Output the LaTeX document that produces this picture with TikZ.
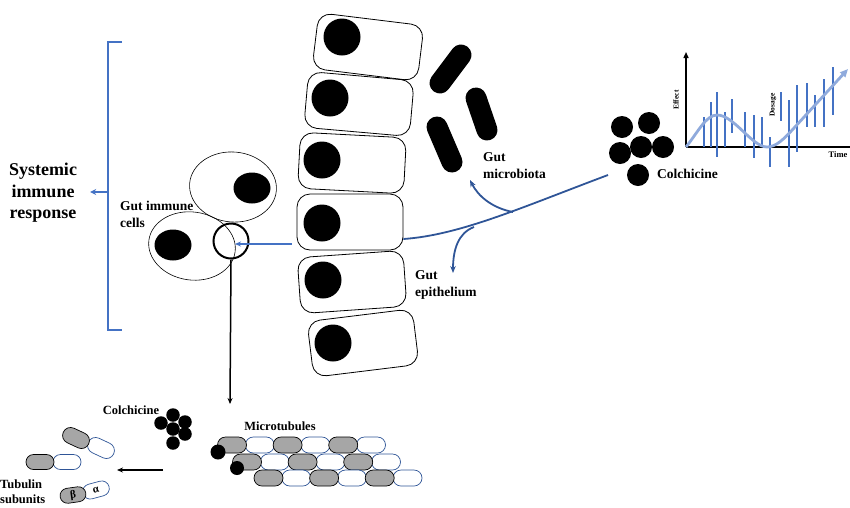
\documentclass[tikz,border=0pt]{standalone}
\usepackage{fontspec}
\setmainfont{Liberation Serif}
\usetikzlibrary{arrows.meta,shapes.geometric,shapes.misc,calc}
\definecolor{linkblue}{HTML}{2F5597}
\definecolor{brblue}{HTML}{4472C4}
\definecolor{lightblue}{HTML}{8FAADC}
\definecolor{tubgray}{HTML}{A6A6A6}
\begin{document}
\begin{tikzpicture}[x=1pt,y=-1pt,
  cell/.style={draw, rounded corners=13pt, minimum width=106pt, minimum height=56pt, line width=0.8pt},
  nuc/.style={circle, fill=black, minimum size=37pt, inner sep=0pt},
  rod/.style={line width=21pt, line cap=round},
  immune/.style={ellipse, draw, line width=0.6pt, minimum width=87pt, minimum height=70pt},
  inuc/.style={ellipse, fill=black, minimum width=37pt, minimum height=31pt, inner sep=0pt},
  lbl/.style={font=\bfseries\fontsize{13.5}{17}\selectfont, align=left, inner sep=0pt},
  sml/.style={font=\bfseries\fontsize{12.5}{15}\selectfont, align=left, inner sep=0pt},
  dot/.style={circle, fill=black, inner sep=0pt, minimum size=#1},
  link/.style={draw=linkblue, line width=1.8pt, -{Stealth[length=7pt,width=5.5pt]}},
  bar/.style={brblue, line width=2.6pt},
  beta/.style={rounded rectangle, draw=black, fill=tubgray, line width=0.7pt, minimum width=28pt, minimum height=16pt, inner sep=0pt},
  alpha/.style={rounded rectangle, draw=linkblue, fill=white, line width=0.7pt, minimum width=28pt, minimum height=16pt, inner sep=0pt},
]
\useasboundingbox (0,0) rectangle (850,507);

% --- epithelial cells ---
\node[cell, rotate=-7] (c1) at (368,47) {};
\node[cell, rotate=-5] (c2) at (359,104) {};
\node[cell, rotate=-3] (c3) at (352,163) {};
\node[cell]            (c4) at (350,222) {};
\node[cell, rotate=4]  (c5) at (352,282) {};
\node[cell, rotate=7]  (c6) at (363,343) {};
\node[nuc] (n1) at (342,37) {};
\node[nuc] (n2) at (330,98) {};
\node[nuc] (n3) at (322,160) {};
\node[nuc] (n4) at (322,223) {};
\node[nuc] (n5) at (323,280) {};
\node[nuc] (n6) at (333,343) {};

% --- gut bacteria ---
\draw[rod] (461,55) -- (440,83);
\draw[rod] (476,98) -- (487,130);
\draw[rod] (437,127) -- (452,162);

% --- gut immune cells ---
\node[immune, rotate=-5]  (im1) at (233,187) {};
\node[immune, rotate=-8, minimum height=68pt] (im2) at (192,246) {};
\node[inuc] (in1) at (252,188) {};
\node[inuc] (in2) at (173,245) {};
\node[circle, draw, line width=2pt, minimum size=35pt, inner sep=0pt] (lens) at (231,241) {};

% --- labels ---
\node[font=\bfseries\fontsize{18}{21.5}\selectfont, align=center, inner sep=0pt] (sys) at (43,193) {Systemic\\immune\\response};
\node[lbl, anchor=west] (lgi) at (120,214) {Gut immune\\cells};
\node[lbl, anchor=west] (lgm) at (483,166) {Gut\\microbiota};
\node[lbl, anchor=west] (lge) at (415,285) {Gut\\epithelium};

% --- systemic bracket ---
\coordinate (brmid) at (108,192);
\draw[brblue, line width=1.8pt] (122,42) -- (108,42) -- (108,330) -- (122,330);
\draw[brblue, line width=1.8pt, -{Stealth[length=6pt,width=6pt]}] (brmid) -- ([xshift=13pt]sys.east |- brmid);

% --- colchicine cluster (top) ---
\node[dot=22pt] (k1) at (622,127) {};
\node[dot=22pt] (k2) at (649,123) {};
\node[dot=22pt] (k3) at (620,153) {};
\node[dot=22pt] (k4) at (641,147) {};
\node[dot=22pt] (k5) at (663,147) {};
\node[dot=22pt] (k6) at (638,175) {};
\node[lbl, anchor=west] (lcol) at (657,174) {Colchicine};

% --- colchicine routes ---
\coordinate (src) at (608,175);
\coordinate (jup) at (513,212);
\coordinate (jdn) at (474,227);
\draw[draw=linkblue, line width=1.8pt] (src) .. controls (520,208) and (460,235) .. ([yshift=-17pt]c4.east);
\draw[link] (jup) .. controls (492,208) and (478,196) .. (470,180);
\draw[link] (jdn) .. controls (458,233) and (453,250) .. (453,273);
\draw[draw=brblue, line width=1.8pt, -{Stealth[length=6pt,width=5pt]}] ([xshift=-5pt,yshift=-22pt]c4.west) -- ([xshift=4pt,yshift=-3pt]lens.center);

% --- dose / effect chart ---
\coordinate (org) at (686,147);
\draw[line width=1.4pt, -{Triangle[length=6pt,width=5pt]}] (org) -- (686,52);
\draw[line width=1.4pt] (org) -- (850,147);
\foreach \x/\a/\b in {704/117/147, 711/102/147, 717/92/157, 725/112/147, 732/99/133,
                      745/112/147, 754/115/158, 762/117/147, 770/137/167, 781/92/121,
                      789/100/167, 797/85/152, 807/83/127, 815/95/127, 824/79/127, 833/67/115}
  \draw[bar] (\x,\a) -- (\x,\b);
\draw[lightblue, line width=2.8pt, -{Triangle[length=8pt,width=7pt]}]
  (org) .. controls (698,132) and (706,115) .. (717,115)
        .. controls (734,115) and (752,147) .. (767,147)
        .. controls (776,147) and (784,139) .. (794,128) -- (848,69);
\node[font=\bfseries\fontsize{7.5}{9}\selectfont, rotate=90] (leff) at (676,100) {Effect};
\node[font=\bfseries\fontsize{7.5}{9}\selectfont, rotate=90] (ldos) at (773,105) {Dosage};
\node[font=\bfseries\fontsize{8.5}{10}\selectfont] (ltime) at (838,155) {Time};

% --- zoom into a cell ---
\coordinate (zoomend) at (230,404);
\draw[line width=1.5pt, -{Stealth[length=6pt,width=5pt]}] (lens.south) -- (zoomend);

% --- colchicine cluster (bottom) ---
\node[dot=13.5pt] (b1) at (173,415) {};
\node[dot=13.5pt] (b2) at (161,423) {};
\node[dot=13.5pt] (b3) at (185,422) {};
\node[dot=13.5pt] (b4) at (173,429) {};
\node[dot=13.5pt] (b5) at (185,434) {};
\node[dot=13.5pt] (b6) at (173,443) {};
\node[sml] (lcol2) at (131,410) {Colchicine};

% --- microtubules ---
\foreach \r/\y/\x in {1/445/232, 2/462/247, 3/478/268.5} {
  \foreach \i in {1,3,5}
    \node[alpha, minimum width=29pt] (mt\r-\i) at ({\x+\i*27.8},\y) {};
  \foreach \i in {0,2,4}
    \node[beta, minimum width=29pt] (mt\r-\i) at ({\x+\i*27.8},\y) {};
}
\node[dot=15pt] (md1) at (218,452) {};
\node[dot=14pt] (md2) at (237,468) {};
\node[sml] (lmt) at (280,426) {Microtubules};

% --- depolymerisation ---
\coordinate (dpa) at (163,470);
\coordinate (dpb) at (117,470);
\draw[line width=1.5pt, -{Stealth[length=6pt,width=5pt]}] (dpa) -- (dpb);

% --- free tubulin subunits ---
\node[alpha, rotate=-25] (t1a) at (101,448) {};
\node[beta, rotate=-25]  (t1b) at (76,438) {};
\node[alpha, minimum width=28pt, minimum height=15pt] (t2a) at (67,462) {};
\node[beta, minimum width=28pt, minimum height=15pt]  (t2b) at (40,462) {};
\node[alpha, rotate=15, minimum width=27pt, minimum height=15pt] (t3a) at (96,490) {\bfseries\fontsize{11}{12}\selectfont α};
\node[beta, rotate=8, minimum width=26pt, minimum height=15pt] (t3b) at (73,495) {\bfseries\fontsize{11}{12}\selectfont β};
\node[sml, anchor=west] (ltub) at (0,492) {Tubulin\\subunits};
\end{tikzpicture}
\end{document}
